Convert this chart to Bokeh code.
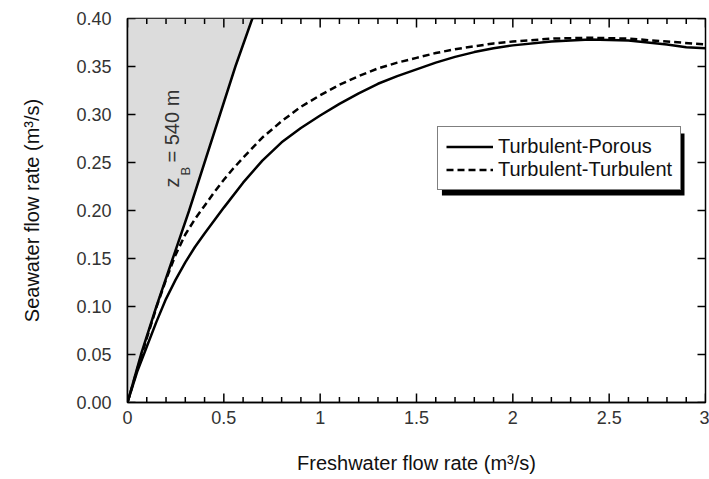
import math
from bokeh.plotting import figure
from bokeh.models import Range1d, FixedTicker, Legend, LegendItem, BoxAnnotation
from bokeh.core.properties import value
from bokeh.embed import file_html
from bokeh.resources import INLINE

# ---------------- data ----------------
# z_B = 540 m boundary line
bound_x = [0.0, 0.07, 0.15, 0.235, 0.32, 0.40, 0.48, 0.56, 0.648]
bound_y = [0.0, 0.05, 0.10, 0.15, 0.20, 0.25, 0.30, 0.35, 0.40]

# Turbulent-Porous (solid)
tp_x = [0.0, 0.05, 0.1, 0.15, 0.2, 0.25, 0.3, 0.35, 0.4, 0.5, 0.6, 0.7, 0.8, 0.9,
        1.0, 1.1, 1.2, 1.3, 1.4, 1.5, 1.6, 1.7, 1.8, 1.9, 2.0, 2.2, 2.4, 2.6,
        2.8, 2.9, 3.0]
tp_y = [0.0, 0.032, 0.058, 0.084, 0.108, 0.128, 0.146, 0.162, 0.176, 0.203,
        0.229, 0.252, 0.271, 0.286, 0.299, 0.311, 0.322, 0.332, 0.340, 0.347,
        0.354, 0.360, 0.365, 0.369, 0.372, 0.376, 0.378, 0.377, 0.373, 0.370,
        0.369]

# Turbulent-Turbulent (dashed)
tt_x = [0.0, 0.05, 0.1, 0.15, 0.2, 0.25, 0.3, 0.35, 0.4, 0.45, 0.5, 0.55, 0.6,
        0.7, 0.8, 0.9, 1.0, 1.1, 1.2, 1.3, 1.4, 1.5, 1.6, 1.7, 1.8, 1.9, 2.0,
        2.2, 2.4, 2.6, 2.8, 3.0]
tt_y = [0.0, 0.034, 0.067, 0.099, 0.128, 0.154, 0.175, 0.191, 0.205, 0.219,
        0.232, 0.244, 0.255, 0.276, 0.293, 0.308, 0.320, 0.331, 0.340, 0.348,
        0.354, 0.359, 0.364, 0.368, 0.371, 0.374, 0.376, 0.379, 0.380, 0.379,
        0.376, 0.373]

x_ticks = [0.0, 0.5, 1.0, 1.5, 2.0, 2.5, 3.0]
x_labels = ["0", "0.5", "1", "1.5", "2", "2.5", "3"]
x_minor = [i / 10 for i in range(0, 31)]
y_ticks = [0.0, 0.05, 0.10, 0.15, 0.20, 0.25, 0.30, 0.35, 0.40]
y_labels = ["0.00", "0.05", "0.10", "0.15", "0.20", "0.25", "0.30", "0.35", "0.40"]

series_names = ["Turbulent-Porous", "Turbulent-Turbulent"]

FONT = "Liberation Sans"
X0, X1, Y0, Y1 = 0.0, 3.0, 0.0, 0.4
FRAME_W, FRAME_H = 578.0, 384.0      # plot-area size in pixels
PX_X = (X1 - X0) / FRAME_W           # data units per pixel
PX_Y = (Y1 - Y0) / FRAME_H
NAN = float("nan")

# ---------------- figure ----------------
p = figure(width=709, height=479, x_range=Range1d(X0, X1), y_range=Range1d(Y0, Y1),
           output_backend="svg", toolbar_location=None,
           min_border_left=127, min_border_right=4, min_border_top=18, min_border_bottom=77)
p.background_fill_color = "white"
p.border_fill_color = "white"
p.grid.visible = False
p.outline_line_color = "black"
p.outline_line_width = 1.5

# shaded region left of boundary
p.patch(bound_x + [0.0], bound_y + [bound_y[-1]], fill_color="#dcdcdc", line_color=None)

p.line(bound_x, bound_y, line_color="black", line_width=2.5)
r1 = p.line(tp_x, tp_y, line_color="black", line_width=2.5)
r2 = p.line(tt_x, tt_y, line_color="black", line_width=2.5, line_dash="7 4")

# inward tick marks on all four sides, drawn as one broken polyline (NaN gaps)
tick_xs, tick_ys = [], []
for t in x_minor:
    tick_xs += [t, t, NAN, t, t, NAN]
    tick_ys += [Y0, Y0 + 5.5 * PX_Y, NAN, Y1, Y1 - 5.5 * PX_Y, NAN]
for t in x_ticks:
    tick_xs += [t, t, NAN, t, t, NAN]
    tick_ys += [Y0, Y0 + 9 * PX_Y, NAN, Y1, Y1 - 9 * PX_Y, NAN]
for t in y_ticks:
    tick_xs += [X0, X0 + 8 * PX_X, NAN, X1, X1 - 8 * PX_X, NAN]
    tick_ys += [t, t, NAN, t, t, NAN]
p.line(tick_xs, tick_ys, line_color="black", line_width=1.5)

# rotated label z_B = 540 m
p.text(x=[0.2332], y=[0.224], text=["z"], angle=math.pi / 2,
       text_font=value(FONT), text_font_size="20px", text_color="#333333",
       text_align="left", text_baseline="alphabetic")
p.text(x=[0.3005], y=[0.2365], text=["B"], angle=math.pi / 2,
       text_font=value(FONT), text_font_size="13px", text_color="#333333",
       text_align="left", text_baseline="alphabetic")
p.text(x=[0.2332], y=[0.25], text=["= 540 m"], angle=math.pi / 2,
       text_font=value(FONT), text_font_size="20px", text_color="#333333",
       text_align="left", text_baseline="alphabetic")

# axes
def style_axis(ax, ticker):
    ax.ticker = ticker
    ax.axis_line_color = "black"
    ax.axis_line_width = 1.5
    ax.major_tick_in = 0
    ax.major_tick_out = 0
    ax.minor_tick_in = 0
    ax.minor_tick_out = 0
    ax.major_tick_line_color = None
    ax.minor_tick_line_color = None
    ax.major_label_text_font = FONT
    ax.major_label_text_font_size = "18px"
    ax.major_label_text_color = "#333333"
    ax.axis_label_text_font = FONT
    ax.axis_label_text_font_size = "20px"
    ax.axis_label_text_font_style = "normal"
    ax.axis_label_text_color = "#111111"

xa = p.xaxis[0]
style_axis(xa, FixedTicker(ticks=x_ticks, minor_ticks=[]))
xa.major_label_overrides = dict(zip(x_ticks, x_labels))
xa.major_label_standoff = 8
xa.axis_label = "Freshwater flow rate (m³/s)"
xa.axis_label_standoff = 25

ya = p.yaxis[0]
style_axis(ya, FixedTicker(ticks=y_ticks, minor_ticks=[]))
ya.major_label_overrides = dict(zip(y_ticks, y_labels))
ya.major_label_standoff = 16
ya.axis_label = "Seawater flow rate (m³/s)"
ya.axis_label_standoff = 30

# legend shadow
shadow = BoxAnnotation(left=1.632, right=2.891, top=0.2802, bottom=0.2156,
                       fill_color="black", fill_alpha=1.0, line_color=None)
p.add_layout(shadow)

legend = Legend(items=[LegendItem(label=series_names[0], renderers=[r1]),
                       LegendItem(label=series_names[1], renderers=[r2])],
                location=(310, 212))
legend.label_text_font = FONT
legend.label_text_font_size = "20px"
legend.label_text_color = "#111111"
legend.label_height = 23
legend.glyph_height = 23
legend.glyph_width = 47
legend.label_standoff = 5
legend.spacing = 0
legend.padding = 8
legend.margin = 0
legend.border_line_color = "black"
legend.border_line_width = 1
legend.background_fill_color = "white"
legend.background_fill_alpha = 1.0
p.add_layout(legend)

open("out.html", "w").write(file_html(p, INLINE))
